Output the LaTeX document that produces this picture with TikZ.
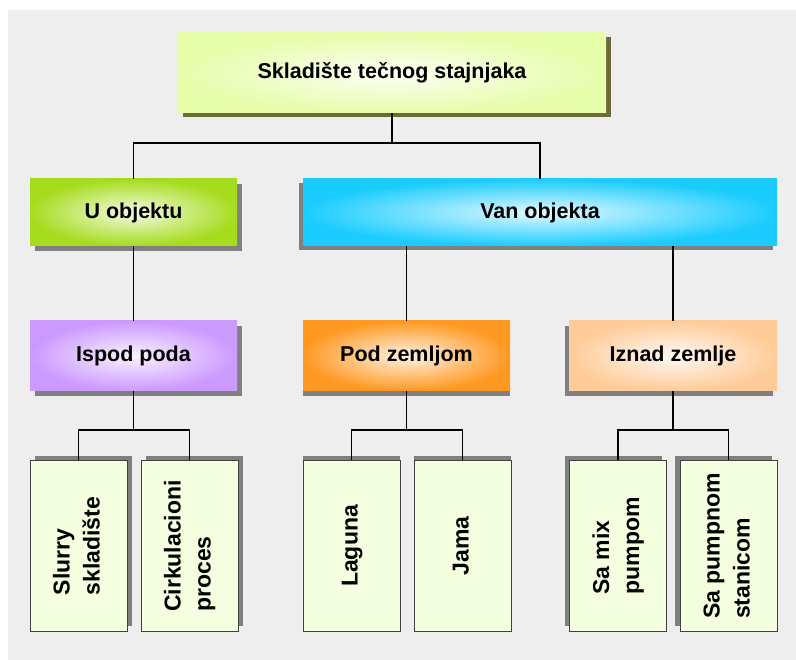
\documentclass[tikz,border=0pt]{standalone}
\usepackage{fontspec}
\setmainfont{Liberation Sans}
\usetikzlibrary{shadows}
\definecolor{panel}{HTML}{EEEEEE}
\definecolor{rootfill}{HTML}{E6FDA9}
\definecolor{rootshadow}{HTML}{6E6A3A}
\definecolor{shgray}{HTML}{808080}
\definecolor{uobjfill}{HTML}{A6DC1E}
\definecolor{vobjfill}{HTML}{1ACCFF}
\definecolor{ispodfill}{HTML}{CC99FF}
\definecolor{podzfill}{HTML}{FF9922}
\definecolor{iznadfill}{HTML}{FFCC99}
\definecolor{leaffill}{HTML}{F3FFDE}
\definecolor{leafline}{HTML}{404040}
\newcommand{\vtext}[1]{\rotatebox{90}{\begin{tabular}{@{}l@{}}#1\end{tabular}}}

\begin{document}
\begin{tikzpicture}[x=1pt, y=-1pt,
  hbox/.style={inner color=#1!12, outer color=#1, minimum height=67pt, inner sep=0pt,
    font=\fontsize{21.5}{25}\selectfont\bfseries},
  leaf/.style={fill=leaffill, draw=leafline, line width=1pt, minimum width=97pt,
    minimum height=170pt, inner sep=0pt, font=\fontsize{23}{30}\selectfont\bfseries},
  sh/.style 2 args={drop shadow={shadow xshift=#1pt, shadow yshift=#2pt, fill=shgray, opacity=1}},
  conn/.style={draw=black, line width=1.8pt}]
\useasboundingbox (0,0) rectangle (796,660);
\fill[white] (0,0) rectangle (796,660);
\fill[panel] (8,10) rectangle (796,660);

% levels
\node[hbox=rootfill, drop shadow={shadow xshift=5pt, shadow yshift=-4pt, fill=rootshadow, opacity=1},
  minimum width=428pt, minimum height=80pt] (root) at (392,73) {Skladište tečnog stajnjaka};
\node[hbox=uobjfill, sh={5}{-5}, minimum width=207pt] (uobj) at (133.5,212.5) {U objektu};
\node[hbox=vobjfill, sh={-4}{-4}, minimum width=474pt] (vobj) at (540,212.5) {Van objekta};
\node[hbox=ispodfill, sh={5}{-5}, minimum width=207pt, minimum height=70pt] (ispod) at (133.5,356) {Ispod poda};
\node[hbox=podzfill, sh={0}{-5}, minimum width=207pt, minimum height=70pt] (podz) at (406.5,356) {Pod zemljom};
\node[hbox=iznadfill, sh={-4}{-5}, minimum width=208pt, minimum height=70pt] (iznad) at (673,356) {Iznad zemlje};

% leaves
\node[leaf, sh={5}{5}] (slurry) at (78.5,546) {\vtext{Slurry\\skladište}};
\node[leaf, sh={5}{5}] (cirk) at (189.5,546) {\vtext{Cirkulacioni\\proces}};
\node[leaf, sh={0}{5}] (laguna) at (351.5,546) {\vtext{Laguna}};
\node[leaf, sh={0}{5}] (jama) at (462.5,546) {\vtext{Jama}};
\node[leaf, sh={-5}{5}] (mix) at (618,546) {\vtext{Sa mix\\pumpom}};
\node[leaf, sh={-5}{5}] (stanica) at (728.5,546) {\vtext{Sa pumpnom\\stanicom}};

\draw[conn] (root.south) -- ++(0,30) coordinate (j0) -| (uobj.north);
\draw[conn] (j0) -| (vobj.north);
\draw[conn] (uobj.south) -- (ispod.north);
\draw[conn] (vobj.south -| podz.north) -- (podz.north);
\draw[conn] (vobj.south -| iznad.north) -- (iznad.north);
\foreach \p/\a/\b in {ispod/slurry/cirk, podz/laguna/jama, iznad/mix/stanica} {
  \draw[conn] (\p.south) -- ++(0,39) coordinate (j) -| (\a.north);
  \draw[conn] (j) -| (\b.north);
}
\end{tikzpicture}
\end{document}
